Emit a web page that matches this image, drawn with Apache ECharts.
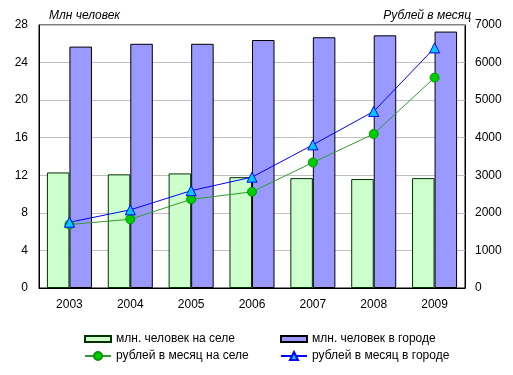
<!DOCTYPE html>
<html><head><meta charset="utf-8">
<script src="https://cdn.jsdelivr.net/npm/echarts@6/dist/echarts.min.js"></script>
<style>html,body{margin:0;padding:0;background:#fff}#c{width:513px;height:375px}</style>
</head><body><div id="c"></div>
<script>
const categories = ['2003','2004','2005','2006','2007','2008','2009'];
const ruralPeople = [12.3, 12.1, 12.2, 11.8, 11.7, 11.6, 11.7];
const urbanPeople = [25.7, 26.0, 26.0, 26.4, 26.7, 26.9, 27.3];
const ruralIncome = [1690, 1830, 2360, 2560, 3340, 4100, 5600];
const urbanIncome = [1750, 2080, 2590, 2950, 3810, 4700, 6390];
const leftTicks = [0, 4, 8, 12, 16, 20, 24, 28];
const rightTicks = [0, 1000, 2000, 3000, 4000, 5000, 6000, 7000];

const font = 'Liberation Sans, Arial, sans-serif';
const chart = echarts.init(document.getElementById('c'), null, {renderer: 'canvas'});
const legendText = {fontFamily: font, fontSize: 12, color: '#000'};
chart.setOption({
  animation: false,
  textStyle: {fontFamily: font},
  grid: {left: 39, right: 48, top: 25, bottom: 87, show: true, borderColor: '#000', borderWidth: 1},
  graphic: [
    {type: 'text', left: 49, top: 10, style: {text: 'Млн человек', font: 'italic 12px ' + font, fill: '#000'}},
    {type: 'text', right: 42, top: 10, style: {text: 'Рублей в месяц', font: 'italic 12px ' + font, fill: '#000'}}
  ],
  legend: [
    {data: ['млн. человек на селе'], left: 84, top: 333, itemWidth: 26, itemHeight: 6, itemGap: 3, textStyle: legendText, icon: 'rect', padding: 0},
    {data: ['млн. человек в городе'], left: 280, top: 333, itemWidth: 26, itemHeight: 6, itemGap: 3, textStyle: legendText, icon: 'rect', padding: 0},
    {data: ['рублей в месяц на селе'], left: 84, top: 350, itemWidth: 26, itemHeight: 10, itemGap: 3, textStyle: legendText, padding: 0},
    {data: ['рублей в месяц в городе'], left: 280, top: 350, itemWidth: 26, itemHeight: 10, itemGap: 3, textStyle: legendText, padding: 0}
  ],
  xAxis: {
    type: 'category', data: categories,
    axisLine: {lineStyle: {color: '#000'}},
    axisTick: {show: false},
    axisLabel: {color: '#000', fontSize: 12, margin: 11, fontFamily: font}
  },
  yAxis: [
    {type: 'value', min: 0, max: 28, interval: 4,
     axisLine: {show: true, lineStyle: {color: '#000'}},
     axisTick: {show: false},
     axisLabel: {color: '#000', fontSize: 12, margin: 11, fontFamily: font,
       formatter: v => leftTicks.includes(v) ? String(v) : ''},
     splitLine: {lineStyle: {color: '#c0c0c0'}}},
    {type: 'value', min: 0, max: 7000, interval: 1000, position: 'right',
     axisLine: {show: true, lineStyle: {color: '#000'}},
     axisTick: {show: false},
     axisLabel: {color: '#000', fontSize: 12, margin: 10, fontFamily: font,
       formatter: v => rightTicks.includes(v) ? String(v) : ''},
     splitLine: {show: false}}
  ],
  series: [
    {name: 'млн. человек на селе', type: 'bar', data: ruralPeople, yAxisIndex: 0,
     barGap: '0%', barCategoryGap: '26%',
     itemStyle: {color: '#ccffcc', borderColor: '#003300', borderWidth: 1}},
    {name: 'млн. человек в городе', type: 'bar', data: urbanPeople, yAxisIndex: 0,
     barGap: '0%', barCategoryGap: '26%',
     itemStyle: {color: '#9999ff', borderColor: '#000', borderWidth: 1}},
    {name: 'рублей в месяц на селе', type: 'line', data: ruralIncome, yAxisIndex: 1,
     symbol: 'circle', symbolSize: 9,
     lineStyle: {color: '#339933', width: 1},
     itemStyle: {color: '#00cc00', borderColor: '#009900', borderWidth: 1}},
    {name: 'рублей в месяц в городе', type: 'line', data: urbanIncome, yAxisIndex: 1,
     symbol: 'triangle', symbolSize: 10,
     lineStyle: {color: '#0000ff', width: 1},
     itemStyle: {color: '#00ccff', borderColor: '#0000ff', borderWidth: 1}}
  ]
});
</script></body></html>
